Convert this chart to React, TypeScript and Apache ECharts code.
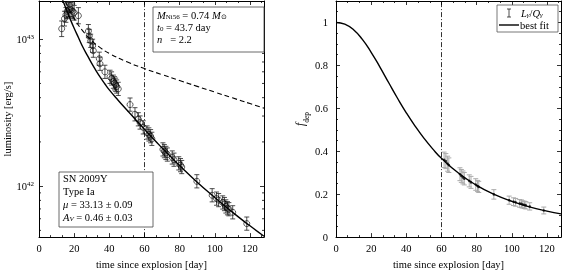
import React, { useEffect, useRef } from 'react';
import * as echarts from 'echarts';

// ---- Left panel: observed bolometric luminosity (log10 erg/s) ----
const dayObs = [12.9, 14.5, 15.3, 16.0, 16.8, 17.5, 18.3, 19.2, 20.0, 22.4, 28.1, 28.6, 29.4, 30.5, 30.9, 34.3, 34.7, 37.5, 40.4, 41.3, 42.3, 43.0, 43.6, 44.2, 45.1, 51.8, 54.6, 56.5, 57.5, 59.3,
  61.5, 62.5, 63.5, 64.2, 70.5, 71.3, 72.2, 73.0, 75.8, 76.8, 79.5, 80.5, 81.2, 89.8, 98.5, 101.0, 102.2, 104.5, 105.5, 106.3, 107.2, 108.0, 110.2, 118.2];
const lumObsLog = [43.071, 43.14, 43.165, 43.19, 43.2, 43.205, 43.2, 43.19, 43.18, 43.16, 43.055, 43.022, 42.989, 42.955, 42.922, 42.867, 42.833, 42.778, 42.744, 42.733, 42.711, 42.70, 42.69, 42.678, 42.662, 42.555, 42.489, 42.455, 42.433, 42.40,
  42.365, 42.352, 42.34, 42.322, 42.25, 42.238, 42.226, 42.215, 42.195, 42.18, 42.155, 42.143, 42.13, 42.033, 41.938, 41.915, 41.905, 41.889, 41.878, 41.862, 41.85, 41.843, 41.822, 41.745];
const lumErrDex = [0.053, 0.05, 0.05, 0.05, 0.05, 0.05, 0.05, 0.05, 0.05, 0.055, 0.045, 0.045, 0.045, 0.045, 0.045, 0.045, 0.045, 0.045, 0.045, 0.045, 0.045, 0.045, 0.045, 0.045, 0.045, 0.045, 0.045, 0.045, 0.045, 0.045,
  0.045, 0.045, 0.045, 0.045, 0.045, 0.045, 0.045, 0.045, 0.045, 0.045, 0.045, 0.045, 0.045, 0.045, 0.045, 0.045, 0.045, 0.045, 0.045, 0.045, 0.045, 0.045, 0.045, 0.045];

// best fit (solid) and total energy deposition rate (dashed), log10 erg/s
const fitDay = [12, 14, 16, 18, 20, 22.5, 25, 27.5, 30, 32.5, 35, 37.5, 40, 45, 50, 55, 60, 65, 70, 75, 80, 90, 100, 110, 120, 128];
const fitLumLog = [43.316, 43.25, 43.19, 43.13, 43.075, 43.01, 42.945, 42.89, 42.835, 42.785, 42.738, 42.695, 42.655, 42.585, 42.518, 42.452, 42.387, 42.322, 42.26, 42.2, 42.14, 42.027, 41.923, 41.823, 41.73, 41.659];
const qDay = [15, 20, 25, 30, 35, 40, 50, 60, 70, 80, 90, 100, 110, 120, 128];
const qLumLog = [43.256, 43.142, 43.055, 42.99, 42.941, 42.903, 42.846, 42.8, 42.759, 42.719, 42.679, 42.64, 42.601, 42.562, 42.531];

// ---- Right panel: deposition fraction ----
const fDay = [61.5, 62.5, 63.5, 64.2, 70.5, 71.3, 72.2, 73.0, 75.8, 76.8, 79.5, 80.5, 81.2, 89.8, 98.5, 101.0, 102.2, 104.5, 105.5, 106.3, 107.2, 108.0, 110.2, 118.2];
const fObs = [0.36, 0.354, 0.342, 0.335, 0.293, 0.285, 0.278, 0.272, 0.262, 0.255, 0.245, 0.238, 0.234, 0.199, 0.172, 0.165, 0.162, 0.157, 0.155, 0.152, 0.15, 0.148, 0.143, 0.124];
const fErr = [0.036, 0.035, 0.035, 0.034, 0.03, 0.03, 0.03, 0.029, 0.028, 0.028, 0.027, 0.026, 0.026, 0.022, 0.019, 0.018, 0.018, 0.018, 0.018, 0.017, 0.017, 0.017, 0.017, 0.016];
const fFitDay = [0, 5, 10, 15, 20, 25, 30, 35, 40, 45, 50, 55, 60, 70, 80, 90, 100, 110, 120, 128];
const fFit = [1, 0.992, 0.966, 0.921, 0.861, 0.792, 0.719, 0.647, 0.579, 0.517, 0.461, 0.411, 0.367, 0.296, 0.241, 0.199, 0.167, 0.141, 0.121, 0.108];

const cutDay = 60;
const xTicks = { min: 0, max: 128, interval: 20 };
const lumRange = { min: 4.5e41, max: 1.82e43 };
const lumMinorTicks = [5e41, 6e41, 7e41, 8e41, 9e41, 2e42, 3e42, 4e42, 5e42, 6e42, 7e42, 8e42, 9e42];
const fRange = { min: 0, max: 1.1, interval: 0.2 };

const FONT = 'Liberation Serif';
const FS = 10.5;

export default function App() {
  const ref = useRef<HTMLDivElement>(null);
  useEffect(() => {
    const chart = echarts.init(ref.current!, null, { renderer: 'svg' });
    const pow = (v: number) => Math.pow(10, v);

    const axisLine = { show: true, onZero: false, lineStyle: { color: '#000', width: 1 } };
    const axisTick = { show: true, inside: true, length: 4, lineStyle: { color: '#000', width: 0.8 } };
    const minorX = { show: true, splitNumber: 3, length: 2, lineStyle: { color: '#000', width: 0.8 } };
    const minorF = { show: true, splitNumber: 4, length: 2, lineStyle: { color: '#000', width: 0.8 } };
    const labelStyle = { color: '#000', fontFamily: FONT, fontSize: FS };

    const xBottom = (grid: number) => ({
      type: 'value', gridIndex: grid, ...xTicks, position: 'bottom',
      axisLine, axisTick, minorTick: minorX, splitLine: { show: false },
      axisLabel: { ...labelStyle, margin: 6, showMaxLabel: false },
      name: 'time since explosion [day]', nameLocation: 'middle', nameGap: 19,
      nameTextStyle: { ...labelStyle },
    });
    const xTop = (grid: number) => ({
      type: 'value', gridIndex: grid, ...xTicks, position: 'top',
      axisLine, axisTick, minorTick: minorX, splitLine: { show: false },
      axisLabel: { show: false },
    });

    const errLeft = dayObs.map((d, i) => [d, pow(lumObsLog[i] - lumErrDex[i]), pow(lumObsLog[i] + lumErrDex[i])]);
    const errRight = fDay.map((d, i) => [d, fObs[i] - fErr[i], fObs[i] + fErr[i]]);

    const errRender = (color: string, cap: number, lw: number) => (params: any, api: any) => {
      const x = api.value(0);
      const p1 = api.coord([x, api.value(1)]);
      const p2 = api.coord([x, api.value(2)]);
      const style = { stroke: color, lineWidth: lw };
      return {
        type: 'group',
        children: [
          { type: 'line', shape: { x1: p1[0], y1: p1[1], x2: p2[0], y2: p2[1] }, style },
          { type: 'line', shape: { x1: p1[0] - cap, y1: p1[1], x2: p1[0] + cap, y2: p1[1] }, style },
          { type: 'line', shape: { x1: p2[0] - cap, y1: p2[1], x2: p2[0] + cap, y2: p2[1] }, style },
        ],
      };
    };

    const cutLine = {
      silent: true, symbol: ['none', 'none'], label: { show: false },
      lineStyle: { type: [5, 2, 1, 2], color: '#000', width: 0.8 },
      data: [{ xAxis: cutDay }],
    };

    const LH = 10;
    const txt = (x: number, y: number, text: string) => ({
      type: 'text', x, y, z: 101,
      style: {
        text, fontFamily: FONT, fontSize: FS, fill: '#000', verticalAlign: 'middle', align: 'left', lineHeight: LH,
        rich: {
          r: { fontFamily: FONT, fontSize: FS, lineHeight: LH },
          i: { fontStyle: 'italic', fontFamily: FONT, fontSize: FS, lineHeight: LH },
          sub: { fontFamily: FONT, fontSize: 7, lineHeight: 7, verticalAlign: 'bottom', padding: [3, 0, 0, 0] },
          isub: { fontStyle: 'italic', fontFamily: FONT, fontSize: 7, lineHeight: 7, verticalAlign: 'bottom', padding: [3, 0, 0, 0] },
        },
      },
    });

    const option: any = {
      animation: false,
      textStyle: { fontFamily: FONT },
      grid: [
        { left: 39, right: 298, top: 1, bottom: 33 },
        { left: 336, right: 1, top: 1, bottom: 33 },
      ],
      xAxis: [xBottom(0), xTop(0), xBottom(1), xTop(1)],
      yAxis: [
        {
          type: 'log', gridIndex: 0, ...lumRange, position: 'left',
          axisLine, axisTick, splitLine: { show: false }, minorTick: { show: false },
          axisLabel: {
            ...labelStyle, margin: 5, showMinLabel: false, showMaxLabel: false,
            formatter: (v: number) => '{b|10}{s|' + Math.round(Math.log10(v)) + '}',
            rich: {
              b: { fontFamily: FONT, fontSize: FS, color: '#000' },
              s: { fontFamily: FONT, fontSize: 7, color: '#000', verticalAlign: 'top', padding: [0, 0, 5, 0] },
            },
          },
          name: 'luminosity [erg/s]', nameLocation: 'middle', nameGap: 25, nameRotate: 90,
          nameTextStyle: { ...labelStyle },
        },
        {
          type: 'log', gridIndex: 0, ...lumRange, position: 'right',
          axisLine, axisTick, splitLine: { show: false }, minorTick: { show: false },
          axisLabel: { show: false },
        },
        {
          type: 'value', gridIndex: 1, ...fRange, position: 'left',
          axisLine, axisTick, minorTick: minorF, splitLine: { show: false },
          axisLabel: { ...labelStyle, margin: 8, showMaxLabel: false },
          name: '{i|f}{s|dep}', nameLocation: 'middle', nameGap: 30, nameRotate: 90,
          nameTextStyle: {
            ...labelStyle,
            rich: {
              i: { fontFamily: FONT, fontSize: FS + 1, fontStyle: 'italic', color: '#000' },
              s: { fontFamily: FONT, fontSize: 7.5, color: '#000', verticalAlign: 'bottom', padding: [0, 0, -4, 0] },
            },
          },
        },
        {
          type: 'value', gridIndex: 1, ...fRange, position: 'right',
          axisLine, axisTick, minorTick: minorF, splitLine: { show: false },
          axisLabel: { show: false },
        },
      ],
      series: [
        {
          type: 'custom', xAxisIndex: 0, yAxisIndex: 0, silent: true,
          data: lumMinorTicks.map((v) => [v]),
          renderItem: (params: any, api: any) => {
            const v = api.value(0);
            const a = api.coord([xTicks.min, v]);
            const b = api.coord([xTicks.max, v]);
            const style = { stroke: '#000', lineWidth: 0.8 };
            return {
              type: 'group', children: [
                { type: 'line', shape: { x1: a[0], y1: a[1], x2: a[0] + 2, y2: a[1] }, style },
                { type: 'line', shape: { x1: b[0] - 2, y1: b[1], x2: b[0], y2: b[1] }, style },
              ],
            };
          },
          z: 5,
        },
        {
          type: 'line', xAxisIndex: 0, yAxisIndex: 0, data: qDay.map((d, i) => [d, pow(qLumLog[i])]),
          smooth: true, showSymbol: false, symbol: 'none',
          lineStyle: { color: '#000', width: 1.1, type: [5, 3] }, z: 3,
        },
        {
          type: 'custom', xAxisIndex: 0, yAxisIndex: 0, data: errLeft,
          renderItem: errRender('#222', 2.5, 0.8), encode: { x: 0, y: [1, 2] }, z: 3,
        },
        {
          type: 'scatter', xAxisIndex: 0, yAxisIndex: 0,
          data: dayObs.map((d, i) => [d, pow(lumObsLog[i])]),
          symbol: 'circle', symbolSize: 6,
          itemStyle: { color: 'rgba(0,0,0,0)', borderColor: '#000', borderWidth: 0.8 }, z: 4,
        },
        {
          type: 'line', xAxisIndex: 0, yAxisIndex: 0, data: fitDay.map((d, i) => [d, pow(fitLumLog[i])]),
          smooth: true, showSymbol: false, symbol: 'none',
          lineStyle: { color: '#000', width: 1.4 }, z: 4,
          markLine: cutLine,
        },
        {
          type: 'custom', xAxisIndex: 2, yAxisIndex: 2, data: errRight,
          renderItem: errRender('#aaa', 2.5, 1), encode: { x: 0, y: [1, 2] }, z: 3,
        },
        {
          type: 'line', xAxisIndex: 2, yAxisIndex: 2, data: fFitDay.map((d, i) => [d, fFit[i]]),
          smooth: true, showSymbol: false, symbol: 'none',
          lineStyle: { color: '#000', width: 1.4 }, z: 4,
          markLine: cutLine,
        },
        {
          type: 'scatter', xAxisIndex: 2, yAxisIndex: 2,
          data: fDay.map((d, i) => [d, fObs[i]]),
          symbol: 'circle', symbolSize: 2.5,
          itemStyle: { color: '#000' }, z: 5,
        },
      ],
      graphic: [
        { type: 'rect', z: 100, shape: { x: 153, y: 7, width: 111, height: 45 }, style: { fill: '#fff', stroke: '#444', lineWidth: 0.8 } },
        txt(157, 15, '{i|M}{sub|Ni56}{r| = 0.74 }{i|M}{sub|⊙}'),
        txt(157, 27, '{i|t}{sub|0}{r| = 43.7 day}'),
        txt(157, 39, '{i|n}{r|   = 2.2}'),
        { type: 'rect', z: 100, shape: { x: 59, y: 172, width: 94, height: 55 }, style: { fill: '#fff', stroke: '#444', lineWidth: 0.8 } },
        txt(63, 178, 'SN 2009Y'),
        txt(63, 191, 'Type Ia'),
        txt(63, 204, '{i|μ}{r| = 33.13 ± 0.09}'),
        txt(63, 217, '{i|A}{isub|V}{r| = 0.46 ± 0.03}'),
        { type: 'rect', z: 100, shape: { x: 497, y: 5, width: 61, height: 27 }, style: { fill: '#fff', stroke: '#555', lineWidth: 0.8 } },
        { type: 'line', z: 101, shape: { x1: 509, y1: 9, x2: 509, y2: 17 }, style: { stroke: '#222', lineWidth: 0.8 } },
        { type: 'line', z: 101, shape: { x1: 507, y1: 9, x2: 511, y2: 9 }, style: { stroke: '#222', lineWidth: 0.8 } },
        { type: 'line', z: 101, shape: { x1: 507, y1: 17, x2: 511, y2: 17 }, style: { stroke: '#222', lineWidth: 0.8 } },
        txt(521, 13, '{i|L}{isub|γ}{r|/}{i|Q}{isub|γ}'),
        { type: 'line', z: 101, shape: { x1: 499, y1: 25, x2: 519, y2: 25 }, style: { stroke: '#000', lineWidth: 1.4 } },
        txt(520, 25, 'best fit'),
      ],
    };
    chart.setOption(option);
    return () => chart.dispose();
  }, []);
  return <div ref={ref} style={{ position: 'fixed', left: 0, top: 0, width: 562, height: 275 }} />;
}
